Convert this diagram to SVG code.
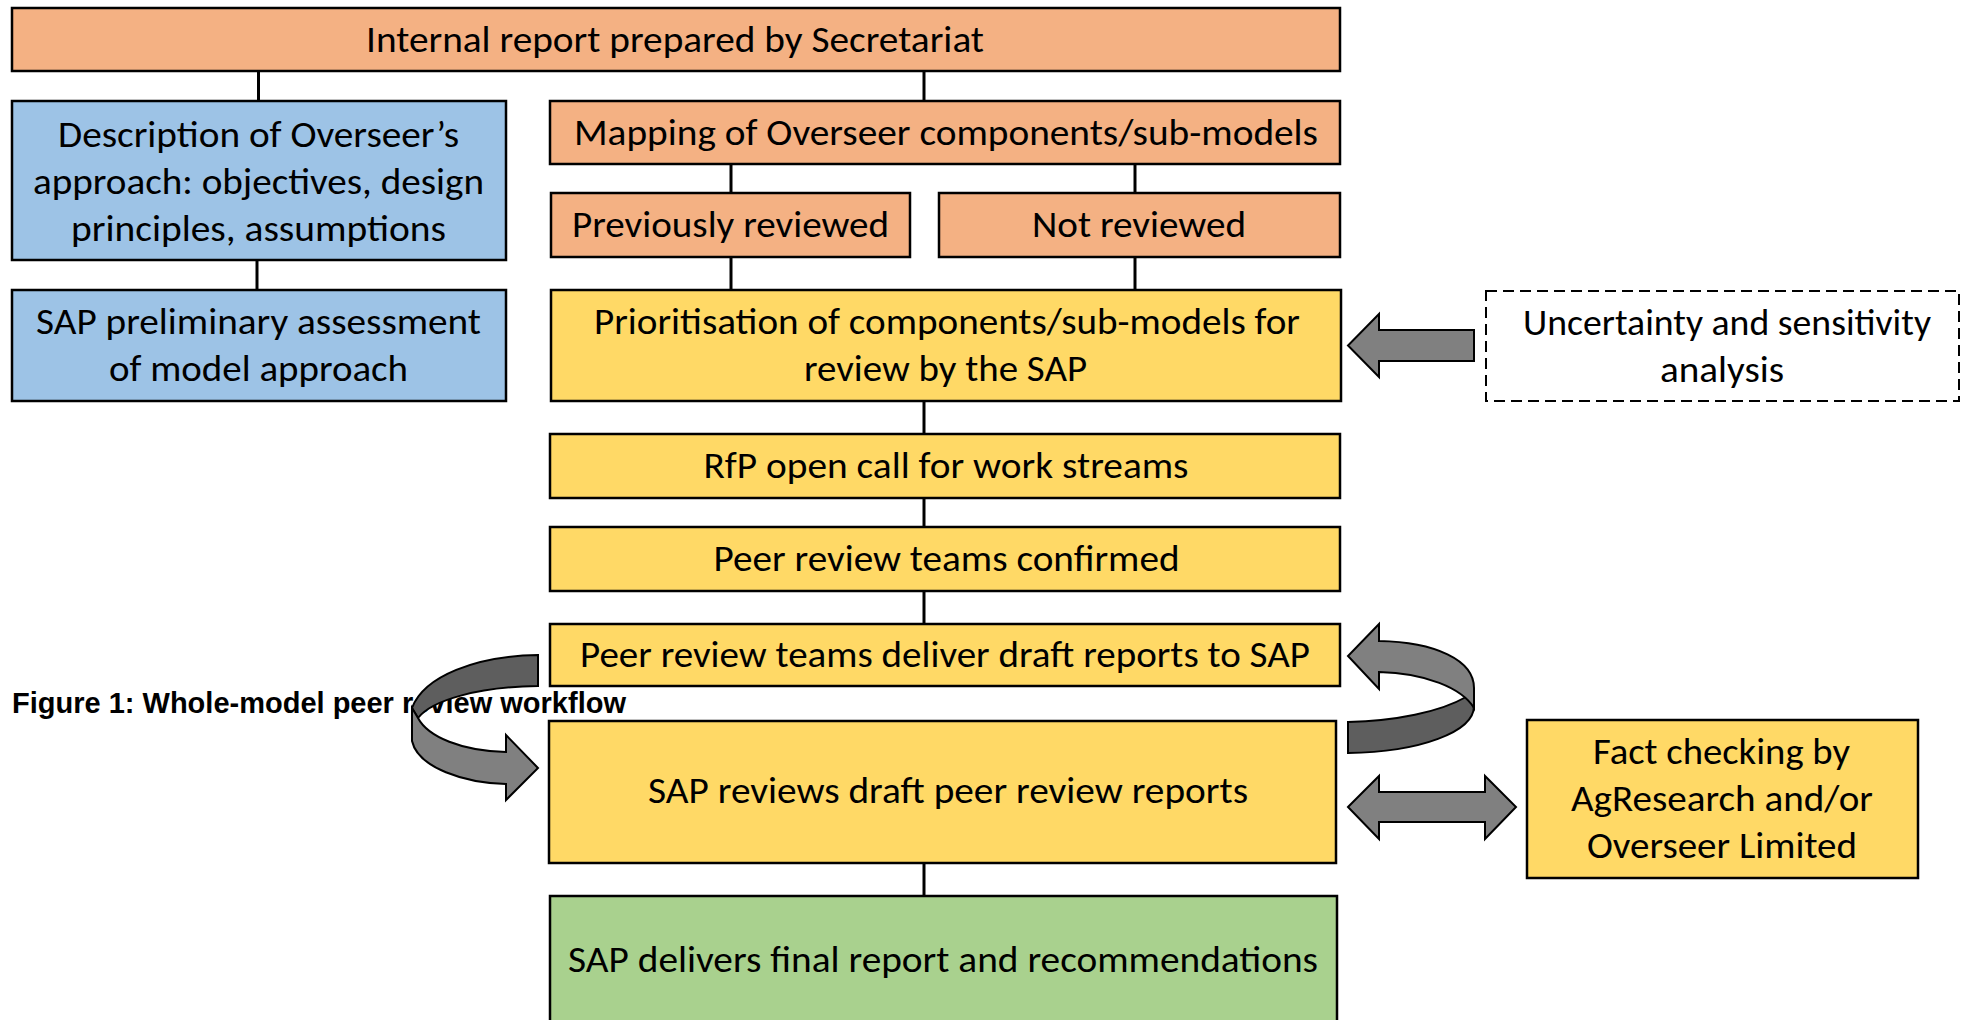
<svg xmlns="http://www.w3.org/2000/svg" width="1969" height="1020" viewBox="0 0 1969 1020">
  <style>
    .box { stroke: #000; stroke-width: 2.5; }
    .orange { fill: #F4B183; }
    .blue { fill: #9DC3E6; }
    .yellow { fill: #FFD966; }
    .green { fill: #A9D18E; }
    .dashed { fill: #fff; stroke: #000; stroke-width: 2; stroke-dasharray: 11 6; }
    .lbl { font-family: Carlito, Lato, "Open Sans", sans-serif; font-size: 37px; fill: #000; text-anchor: middle; }
    .conn { stroke: #000; stroke-width: 3; fill: none; }
    .arrow { fill: #808080; stroke: #000; stroke-width: 2; stroke-linejoin: miter; }
    .arrow-back { fill: #5E5E5E; stroke: #000; stroke-width: 2; }
    .caption { font-family: "Liberation Sans", Arial, sans-serif; font-weight: bold; font-size: 29px; fill: #000; }
  </style>

  <rect width="1969" height="1020" fill="#fff"/>

  <!-- figure caption, sits underneath the loop arrow -->
  <text class="caption" x="12" y="713" textLength="614" lengthAdjust="spacingAndGlyphs">Figure 1: Whole-model peer review workflow</text>

  <!-- connectors -->
  <g id="connectors">
    <line class="conn" x1="258.5" y1="71" x2="258.5" y2="101"/>
    <line class="conn" x1="257" y1="260" x2="257" y2="290"/>
    <line class="conn" x1="924" y1="71" x2="924" y2="101"/>
    <line class="conn" x1="731" y1="164" x2="731" y2="193"/>
    <line class="conn" x1="1135" y1="164" x2="1135" y2="193"/>
    <line class="conn" x1="731" y1="257" x2="731" y2="290"/>
    <line class="conn" x1="1135" y1="257" x2="1135" y2="290"/>
    <line class="conn" x1="924" y1="401" x2="924" y2="434"/>
    <line class="conn" x1="924" y1="498" x2="924" y2="527"/>
    <line class="conn" x1="924" y1="591" x2="924" y2="624"/>
    <line class="conn" x1="924" y1="863" x2="924" y2="896"/>

    <!-- block arrow: sensitivity analysis into prioritisation -->
    <path class="arrow" d="M1474,330 L1379,330 L1379,314 L1348,345.5 L1379,377 L1379,361 L1474,361 Z"/>

    <!-- two-way block arrow: SAP review <-> fact checking -->
    <path class="arrow" d="M1348,807 L1379,776 L1379,792 L1485,792 L1485,776 L1516,807 L1485,839 L1485,822 L1379,822 L1379,839 Z"/>

    <!-- left U-turn arrow: draft reports down into SAP review -->
    <path class="arrow-back" d="M538,655 C476,656 424,676 412,708 L418,718 C432,700 478,687 538,686 Z"/>
    <path class="arrow" d="M412,708 L412,741 C418,768 465,783 506,784 L506,800 L538,768 L506,735 L506,752 C462,751 428,737 418,718 Z"/>

    <!-- right U-turn arrow: SAP review back up to peer review teams -->
    <path class="arrow-back" d="M1348,722 C1395,721 1440,712 1466,697 L1474,706 C1474,732 1420,752 1348,753 Z"/>
    <path class="arrow" d="M1379,641 C1435,642 1474,660 1474,688 L1474,708 C1462,688 1425,673 1379,672 L1379,689 L1348,656 L1379,624 Z"/>
  </g>

  <g id="internal-report">
    <rect class="box orange" x="12" y="8" width="1328" height="63"/>
    <text class="lbl" x="675" y="52" textLength="618" lengthAdjust="spacingAndGlyphs">Internal report prepared by Secretariat</text>
  </g>

  <g id="approach-description">
    <rect class="box blue" x="12" y="101" width="494" height="159"/>
    <text class="lbl" x="258.5" y="147" textLength="401" lengthAdjust="spacingAndGlyphs">Description of Overseer’s</text>
    <text class="lbl" x="258.5" y="194" textLength="451" lengthAdjust="spacingAndGlyphs">approach: objectives, design</text>
    <text class="lbl" x="258.5" y="241" textLength="375" lengthAdjust="spacingAndGlyphs">principles, assumptions</text>
  </g>

  <g id="preliminary-assessment">
    <rect class="box blue" x="12" y="290" width="494" height="111"/>
    <text class="lbl" x="258.5" y="334" textLength="445" lengthAdjust="spacingAndGlyphs">SAP preliminary assessment</text>
    <text class="lbl" x="258.5" y="381" textLength="299" lengthAdjust="spacingAndGlyphs">of model approach</text>
  </g>

  <g id="mapping">
    <rect class="box orange" x="550" y="101" width="790" height="63"/>
    <text class="lbl" x="946" y="145" textLength="744" lengthAdjust="spacingAndGlyphs">Mapping of Overseer components/sub-models</text>
  </g>

  <g id="previously-reviewed">
    <rect class="box orange" x="551" y="193" width="359" height="64"/>
    <text class="lbl" x="730.5" y="237" textLength="317" lengthAdjust="spacingAndGlyphs">Previously reviewed</text>
  </g>

  <g id="not-reviewed">
    <rect class="box orange" x="939" y="193" width="401" height="64"/>
    <text class="lbl" x="1139" y="237" textLength="214" lengthAdjust="spacingAndGlyphs">Not reviewed</text>
  </g>

  <g id="prioritisation">
    <rect class="box yellow" x="551" y="290" width="790" height="111"/>
    <text class="lbl" x="947" y="334" textLength="706" lengthAdjust="spacingAndGlyphs">Prioritisation of components/sub-models for</text>
    <text class="lbl" x="945.5" y="381" textLength="283" lengthAdjust="spacingAndGlyphs">review by the SAP</text>
  </g>

  <g id="uncertainty-analysis">
    <rect class="dashed" x="1486" y="291" width="473" height="110"/>
    <text class="lbl" x="1727" y="335" textLength="408" lengthAdjust="spacingAndGlyphs">Uncertainty and sensitivity</text>
    <text class="lbl" x="1722" y="382" textLength="124" lengthAdjust="spacingAndGlyphs">analysis</text>
  </g>

  <g id="rfp-call">
    <rect class="box yellow" x="550" y="434" width="790" height="64"/>
    <text class="lbl" x="946" y="478" textLength="485" lengthAdjust="spacingAndGlyphs">RfP open call for work streams</text>
  </g>

  <g id="teams-confirmed">
    <rect class="box yellow" x="550" y="527" width="790" height="64"/>
    <text class="lbl" x="946.5" y="571" textLength="466" lengthAdjust="spacingAndGlyphs">Peer review teams confirmed</text>
  </g>

  <g id="draft-reports">
    <rect class="box yellow" x="550" y="624" width="790" height="62"/>
    <text class="lbl" x="945" y="667" textLength="730" lengthAdjust="spacingAndGlyphs">Peer review teams deliver draft reports to SAP</text>
  </g>

  <g id="sap-review">
    <rect class="box yellow" x="549" y="721" width="787" height="142"/>
    <text class="lbl" x="948" y="803" textLength="600" lengthAdjust="spacingAndGlyphs">SAP reviews draft peer review reports</text>
  </g>

  <g id="fact-checking">
    <rect class="box yellow" x="1527" y="720" width="391" height="158"/>
    <text class="lbl" x="1721.5" y="764" textLength="257" lengthAdjust="spacingAndGlyphs">Fact checking by</text>
    <text class="lbl" x="1722" y="811" textLength="302" lengthAdjust="spacingAndGlyphs">AgResearch and/or</text>
    <text class="lbl" x="1722" y="858" textLength="270" lengthAdjust="spacingAndGlyphs">Overseer Limited</text>
  </g>

  <g id="final-report">
    <rect class="box green" x="550" y="896" width="787" height="140"/>
    <text class="lbl" x="943" y="972" textLength="750" lengthAdjust="spacingAndGlyphs">SAP delivers final report and recommendations</text>
  </g>
</svg>
